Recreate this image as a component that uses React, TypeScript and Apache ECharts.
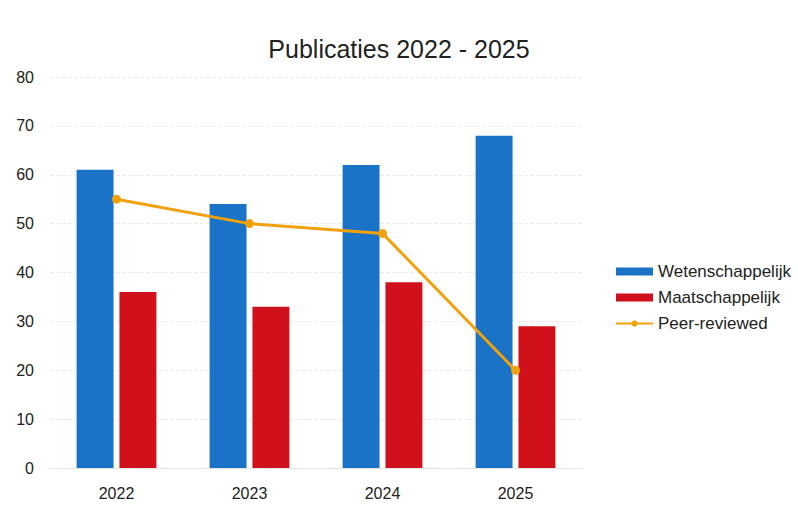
import React, { useEffect, useRef } from "react";
import * as echarts from "echarts";

const categories = ["2022", "2023", "2024", "2025"];
const wetenschappelijk = [61, 54, 62, 68];
const maatschappelijk = [36, 33, 38, 29];
const peerReviewed = [55, 50, 48, 20];
const yTicks = { min: 0, max: 80, interval: 10 };

export default function App() {
  const ref = useRef<HTMLDivElement>(null);
  useEffect(() => {
    if (!ref.current) return;
    const chart = echarts.init(ref.current, null, { renderer: "svg" });
    chart.setOption({
      animation: false,
      backgroundColor: "#ffffff",
      textStyle: { fontFamily: "Liberation Sans, Arial, sans-serif" },
      title: {
        text: "Publicaties 2022 - 2025",
        left: "center",
        top: 31,
        textStyle: { fontSize: 25, fontWeight: "normal", color: "#222" },
      },
      grid: { left: 50, right: 216, top: 77, bottom: 54 },
      legend: {
        orient: "vertical",
        left: 610,
        top: 258,
        itemGap: 9,
        itemWidth: 37,
        itemHeight: 8,
        textStyle: { fontSize: 17, color: "#222" },
        data: [
          { name: "Wetenschappelijk", icon: "rect" },
          { name: "Maatschappelijk", icon: "rect" },
          { name: "Peer-reviewed" },
        ],
      },
      xAxis: {
        type: "category",
        data: categories,
        axisTick: { show: false },
        axisLine: { show: true, lineStyle: { color: "#e4e4e4" } },
        axisLabel: { fontSize: 16, color: "#222", margin: 17 },
      },
      yAxis: {
        type: "value",
        min: yTicks.min,
        max: yTicks.max,
        interval: yTicks.interval,
        axisLine: { show: false },
        axisTick: { show: false },
        axisLabel: { fontSize: 16, color: "#222", margin: 16 },
        splitLine: { lineStyle: { color: "#ececec", type: "dashed" } },
      },
      series: [
        {
          name: "Wetenschappelijk",
          type: "bar",
          data: wetenschappelijk,
          barGap: "16%",
          barCategoryGap: "40%",
          itemStyle: { color: "#1b73c8" },
        },
        {
          name: "Maatschappelijk",
          type: "bar",
          data: maatschappelijk,
          itemStyle: { color: "#d0101a" },
        },
        {
          name: "Peer-reviewed",
          type: "line",
          data: peerReviewed,
          symbol: "circle",
          symbolSize: 9,
          lineStyle: { color: "#f0a20c", width: 3 },
          itemStyle: { color: "#f0a20c" },
        },
      ],
    });
    return () => chart.dispose();
  }, []);
  return (
    <div
      ref={ref}
      style={{ position: "fixed", left: 0, top: 0, width: 798, height: 522 }}
    />
  );
}
